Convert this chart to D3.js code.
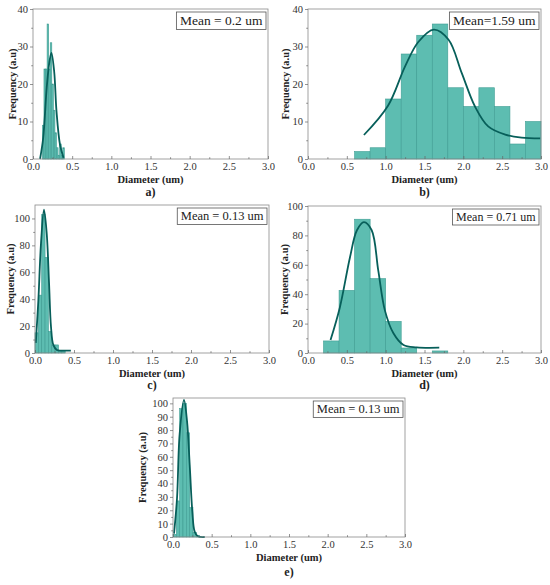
<!DOCTYPE html>
<html>
<head>
<meta charset="utf-8">
<script src="https://cdn.jsdelivr.net/npm/d3@7"></script>
<style>
  body { margin: 0; background: #fff; }
  svg { display: block; }
</style>
</head>
<body>
<svg id="fig" width="550" height="585"></svg>
<script>
const serif = '"Liberation Serif", "Times New Roman", serif';

// shared x ticks (um)
const xTicks = [0, 0.5, 1.0, 1.5, 2.0, 2.5, 3.0];
const xMinor = [0.25, 0.75, 1.25, 1.75, 2.25, 2.75];

// a) histogram + fit
const aEdges = [0.12, 0.14, 0.16, 0.18, 0.20, 0.22, 0.24, 0.26, 0.28, 0.30, 0.32, 0.34, 0.36, 0.38, 0.40];
const aCounts = [9, 24, 24, 36, 24, 31, 20, 13, 7, 3, 1, 4, 1, 3];
const aFitX = [0.09, 0.13, 0.175, 0.21, 0.235, 0.27, 0.30, 0.345, 0.39];
const aFitY = [0, 5.6, 19, 26, 28.3, 23.4, 12.7, 3.8, 0.3];
const aYTicks = [0, 10, 20, 30, 40];

// b)
const bEdges = [0.6, 0.8, 1.0, 1.2, 1.4, 1.6, 1.8, 2.0, 2.2, 2.4, 2.6, 2.8, 3.0];
const bCounts = [2, 3, 16, 28, 33, 36, 19, 14, 19, 14, 4, 10];
const bFitX = [0.72, 1.03, 1.25, 1.42, 1.62, 1.81, 1.98, 2.15, 2.32, 2.54, 2.75, 2.99];
const bFitY = [6.4, 14.2, 24.7, 31.2, 34.5, 31.8, 22.9, 14, 8.7, 6.5, 5.7, 5.5];
const bYTicks = [0, 10, 20, 30, 40];

// c)
const cEdges = [0, 0.043, 0.086, 0.129, 0.172, 0.215, 0.258, 0.301, 0.344, 0.387];
const cCounts = [15, 43, 103, 71, 16, 6, 6, 1.5, 1.5];
const cFitX = [0.01, 0.043, 0.077, 0.115, 0.15, 0.18, 0.205, 0.235, 0.28, 0.35, 0.46];
const cFitY = [7.5, 39, 81.5, 106.5, 89, 52, 19.5, 6, 2.2, 1.8, 1.8];
const cYTicks = [0, 20, 40, 60, 80, 100];

// d)
const dEdges = [0.2, 0.4, 0.6, 0.8, 1.0, 1.2, 1.4, 1.6, 1.8];
const dCounts = [8.2, 42.6, 91, 50.6, 21.5, 3.4, 0, 1.4];
const dFitX = [0.29, 0.41, 0.54, 0.63, 0.72, 0.82, 0.905, 0.99, 1.10, 1.23, 1.40, 1.69];
const dFitY = [8.8, 31, 65, 83.5, 89, 83.5, 56, 29, 13.4, 5.4, 3.8, 3.6];
const dYTicks = [0, 20, 40, 60, 80, 100];

// e)
const eEdges = [0, 0.043, 0.086, 0.129, 0.172, 0.215, 0.258, 0.301, 0.344];
const eCounts = [2, 27, 96, 100, 78, 22, 3.5, 1];
const eFitX = [0.013, 0.052, 0.086, 0.142, 0.181, 0.216, 0.25, 0.28, 0.32, 0.41];
const eFitY = [2.5, 29, 77, 102.5, 87, 54, 19, 4, 0.6, 0];
const eYTicks = [0, 10, 20, 30, 40, 50, 60, 70, 80, 90, 100];

const panels = [
  { tag: "a)", mean: "Mean = 0.2 um", edges: aEdges, counts: aCounts, fx: aFitX, fy: aFitY,
    yTicks: aYTicks, yMax: 40, l: 33, t: 9, w: 235, h: 150, yLab: 21, fs: 13.5, lab: 37 },
  { tag: "b)", mean: "Mean=1.59 um", edges: bEdges, counts: bCounts, fx: bFitX, fy: bFitY,
    yTicks: bYTicks, yMax: 40, l: 308, t: 9, w: 233, h: 150, yLab: 23, fs: 13.5, lab: 37 },
  { tag: "c)", mean: "Mean = 0.13 um", edges: cEdges, counts: cCounts, fx: cFitX, fy: cFitY,
    yTicks: cYTicks, yMax: 110, l: 35, t: 205, w: 234, h: 148, yLab: 25, fs: 12.5, lab: 36 },
  { tag: "d)", mean: "Mean = 0.71 um", edges: dEdges, counts: dCounts, fx: dFitX, fy: dFitY,
    yTicks: dYTicks, yMax: 100, l: 308, t: 206, w: 233, h: 147, yLab: 24, fs: 12, lab: 36 },
  { tag: "e)", mean: "Mean = 0.13 um", edges: eEdges, counts: eCounts, fx: eFitX, fy: eFitY,
    yTicks: eYTicks, yMax: 104, l: 173, t: 398, w: 232, h: 139, yLab: 31, fs: 12.5, lab: 39 }
];

const svg = d3.select("#fig");

panels.forEach((p) => {
  const g = svg.append("g").attr("transform", `translate(${p.l},${p.t})`);
  const x = d3.scaleLinear().domain([0, 3]).range([0, p.w]);
  const y = d3.scaleLinear().domain([0, p.yMax]).range([p.h, 0]);

  // bars
  g.selectAll("rect.bar")
    .data(p.counts)
    .join("rect")
    .attr("class", "bar")
    .attr("x", (d, i) => x(p.edges[i]))
    .attr("width", (d, i) => x(p.edges[i + 1]) - x(p.edges[i]))
    .attr("y", (d) => y(d))
    .attr("height", (d) => y(0) - y(d))
    .attr("fill", "#5dbdb1")
    .attr("stroke", "#3f9d93")
    .attr("stroke-width", 0.6);

  // fit curve
  const pts = p.fx.map((v, i) => [v, p.fy[i]]);
  g.append("path")
    .datum(pts)
    .attr("fill", "none")
    .attr("stroke", "#075f5a")
    .attr("stroke-width", 1.8)
    .attr("d", d3.line().x((d) => x(d[0])).y((d) => y(d[1])).curve(d3.curveCatmullRom));

  // frame
  g.append("rect")
    .attr("width", p.w).attr("height", p.h)
    .attr("fill", "none").attr("stroke", "#8a8a8a").attr("stroke-width", 0.8);

  // x axis
  g.append("g").attr("transform", `translate(0,${p.h})`)
    .call(d3.axisBottom(x).tickValues(xTicks).tickFormat(d3.format(".1f")).tickSize(-3).tickPadding(4));
  g.append("g").attr("transform", `translate(0,${p.h})`)
    .call(d3.axisBottom(x).tickValues(xMinor).tickFormat("").tickSize(-1.8));

  // y axis
  const step = p.yTicks[1] - p.yTicks[0];
  const yMinor = p.yTicks.map((v) => v + step / 2).filter((v) => v < p.yMax);
  g.append("g").call(d3.axisLeft(y).tickValues(p.yTicks).tickSize(3).tickPadding(2));
  g.append("g").call(d3.axisLeft(y).tickValues(yMinor).tickFormat("").tickSize(1.8));

  g.selectAll(".domain").remove();
  g.selectAll(".tick line").attr("stroke", "#666").attr("stroke-width", 0.7);
  g.selectAll(".tick text").attr("font-size", 10.5).attr("fill", "#333")
    .attr("font-family", serif).style("font-family", serif);

  // titles
  g.append("text")
    .attr("x", p.w / 2).attr("y", p.h + 24)
    .attr("text-anchor", "middle")
    .style("font-family", serif)
    .attr("font-size", 10.5).attr("font-weight", "bold").attr("fill", "#222")
    .text("Diameter (um)");
  g.append("text")
    .attr("transform", `rotate(-90)`)
    .attr("x", -p.h / 2).attr("y", -p.yLab + 4)
    .attr("text-anchor", "middle")
    .style("font-family", serif)
    .attr("font-size", 10.5).attr("font-weight", "bold").attr("fill", "#222")
    .text("Frequency (a.u)");
  g.append("text")
    .attr("x", p.w / 2).attr("y", p.h + p.lab)
    .attr("text-anchor", "middle")
    .style("font-family", serif)
    .attr("font-size", 12).attr("font-weight", "bold").attr("fill", "#222")
    .text(p.tag);

  // mean box
  const box = g.append("g");
  const txt = box.append("text")
    .style("font-family", serif)
    .attr("font-size", p.fs).attr("fill", "#222")
    .text(p.mean);
  const tw = txt.node().getComputedTextLength();
  const bw = tw + 7, bh = p.fs + 4;
  const bx = p.w - 2 - bw, by = 3;
  box.insert("rect", "text")
    .attr("x", bx).attr("y", by).attr("width", bw).attr("height", bh)
    .attr("fill", "#fff").attr("stroke", "#555").attr("stroke-width", 0.8);
  txt.attr("x", bx + 3.5).attr("y", by + bh - 4.5);
});
</script>
</body>
</html>
